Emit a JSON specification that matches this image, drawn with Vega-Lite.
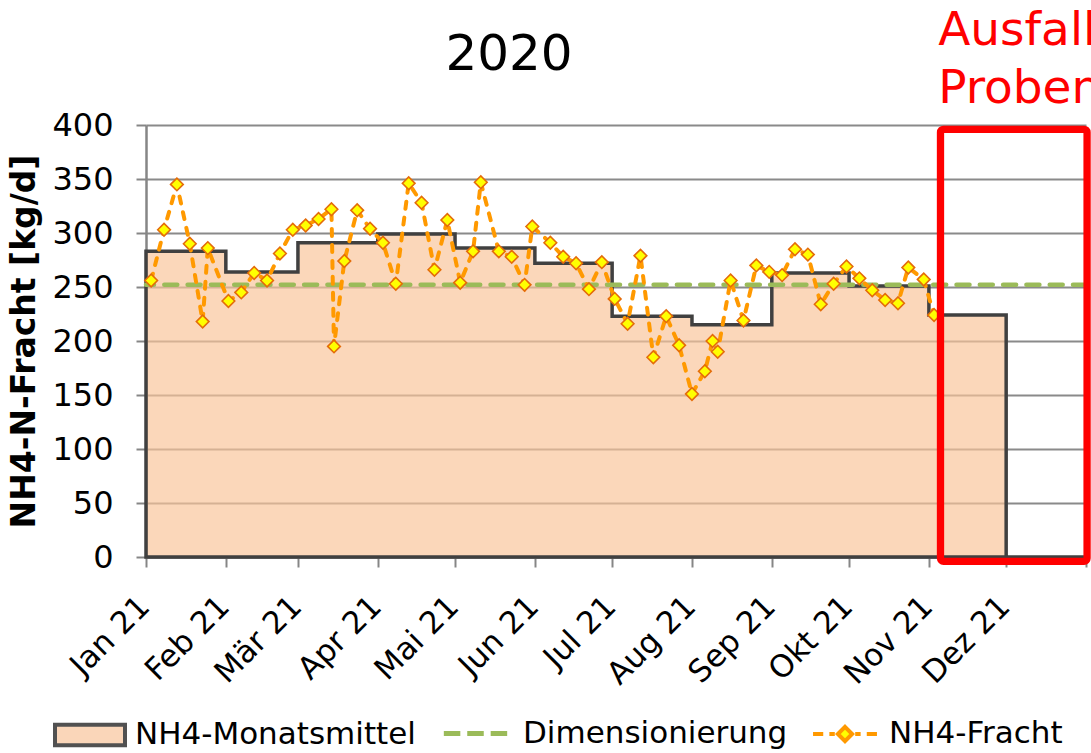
{
  "$schema": "https://vega.github.io/schema/vega-lite/v6.json",
  "width": 940,
  "height": 432,
  "autosize": {"type": "none"},
  "padding": {"left": 146, "top": 125, "right": 5, "bottom": 196},
  "background": "white",
  "title": {"text": "2020", "font": "DejaVu Sans", "fontSize": 50, "fontWeight": "normal", "color": "black", "anchor": "middle", "frame": "group", "dx": -107, "offset": -113, "baseline": "alphabetic"},
  "datasets": {
    "monthly": [
      {"datum": "2021-01-01", "wert": 283},
      {"datum": "2021-02-01", "wert": 264},
      {"datum": "2021-03-01", "wert": 291},
      {"datum": "2021-04-01", "wert": 299},
      {"datum": "2021-05-01", "wert": 286},
      {"datum": "2021-06-01", "wert": 272},
      {"datum": "2021-07-01", "wert": 223},
      {"datum": "2021-08-01", "wert": 215},
      {"datum": "2021-09-01", "wert": 263},
      {"datum": "2021-10-01", "wert": 251},
      {"datum": "2021-11-01", "wert": 224},
      {"datum": "2021-12-01", "wert": 0},
      {"datum": "2022-01-01", "wert": 0}
    ],
    "fracht": [
      {"datum": "2021-01-03", "wert": 256},
      {"datum": "2021-01-08", "wert": 303},
      {"datum": "2021-01-13", "wert": 345},
      {"datum": "2021-01-18", "wert": 290},
      {"datum": "2021-01-23", "wert": 218},
      {"datum": "2021-01-25", "wert": 286},
      {"datum": "2021-02-02", "wert": 237},
      {"datum": "2021-02-07", "wert": 245},
      {"datum": "2021-02-12", "wert": 263},
      {"datum": "2021-02-17", "wert": 256},
      {"datum": "2021-02-22", "wert": 281},
      {"datum": "2021-02-27", "wert": 303},
      {"datum": "2021-03-04", "wert": 307},
      {"datum": "2021-03-09", "wert": 313},
      {"datum": "2021-03-14", "wert": 322},
      {"datum": "2021-03-15", "wert": 195},
      {"datum": "2021-03-19", "wert": 274},
      {"datum": "2021-03-24", "wert": 321},
      {"datum": "2021-03-29", "wert": 304},
      {"datum": "2021-04-03", "wert": 291},
      {"datum": "2021-04-08", "wert": 253},
      {"datum": "2021-04-13", "wert": 346},
      {"datum": "2021-04-18", "wert": 328},
      {"datum": "2021-04-23", "wert": 266},
      {"datum": "2021-04-28", "wert": 312},
      {"datum": "2021-05-03", "wert": 254},
      {"datum": "2021-05-08", "wert": 283},
      {"datum": "2021-05-11", "wert": 347},
      {"datum": "2021-05-18", "wert": 283},
      {"datum": "2021-05-23", "wert": 278},
      {"datum": "2021-05-28", "wert": 252},
      {"datum": "2021-05-31", "wert": 306},
      {"datum": "2021-06-07", "wert": 291},
      {"datum": "2021-06-12", "wert": 278},
      {"datum": "2021-06-17", "wert": 272},
      {"datum": "2021-06-22", "wert": 248},
      {"datum": "2021-06-27", "wert": 273},
      {"datum": "2021-07-02", "wert": 239},
      {"datum": "2021-07-07", "wert": 216},
      {"datum": "2021-07-12", "wert": 279},
      {"datum": "2021-07-17", "wert": 185},
      {"datum": "2021-07-22", "wert": 223},
      {"datum": "2021-07-27", "wert": 196},
      {"datum": "2021-08-01", "wert": 151},
      {"datum": "2021-08-06", "wert": 172},
      {"datum": "2021-08-09", "wert": 200},
      {"datum": "2021-08-11", "wert": 190},
      {"datum": "2021-08-16", "wert": 256},
      {"datum": "2021-08-21", "wert": 219},
      {"datum": "2021-08-26", "wert": 270},
      {"datum": "2021-08-31", "wert": 264},
      {"datum": "2021-09-05", "wert": 261},
      {"datum": "2021-09-10", "wert": 285},
      {"datum": "2021-09-15", "wert": 280},
      {"datum": "2021-09-20", "wert": 234},
      {"datum": "2021-09-25", "wert": 253},
      {"datum": "2021-09-30", "wert": 269},
      {"datum": "2021-10-05", "wert": 258},
      {"datum": "2021-10-10", "wert": 247},
      {"datum": "2021-10-15", "wert": 238},
      {"datum": "2021-10-20", "wert": 235},
      {"datum": "2021-10-24", "wert": 268},
      {"datum": "2021-10-30", "wert": 257},
      {"datum": "2021-11-03", "wert": 224}
    ],
    "one": [{"id": 1}]
  },
  "layer": [
    {
      "data": {"name": "monthly"},
      "mark": {"type": "area", "interpolate": "step-after", "fillOpacity": 0.68, "stroke": "#404040", "strokeWidth": 3.5, "strokeJoin": "miter"},
      "encoding": {
        "x": {
          "field": "datum",
          "type": "temporal",
          "scale": {"type": "utc", "domain": [{"year": 2021, "month": 1, "date": 1, "utc": true}, {"year": 2022, "month": 1, "date": 1, "utc": true}]},
          "axis": {
            "title": null,
            "grid": false,
            "values": [
              {"year": 2021, "month": 1, "date": 1, "utc": true},
              {"year": 2021, "month": 2, "date": 1, "utc": true},
              {"year": 2021, "month": 3, "date": 1, "utc": true},
              {"year": 2021, "month": 4, "date": 1, "utc": true},
              {"year": 2021, "month": 5, "date": 1, "utc": true},
              {"year": 2021, "month": 6, "date": 1, "utc": true},
              {"year": 2021, "month": 7, "date": 1, "utc": true},
              {"year": 2021, "month": 8, "date": 1, "utc": true},
              {"year": 2021, "month": 9, "date": 1, "utc": true},
              {"year": 2021, "month": 10, "date": 1, "utc": true},
              {"year": 2021, "month": 11, "date": 1, "utc": true},
              {"year": 2021, "month": 12, "date": 1, "utc": true},
              {"year": 2022, "month": 1, "date": 1, "utc": true}
            ],
            "labelExpr": "utcyear(datum.value) == 2022 ? '' : ['Jan','Feb','Mär','Apr','Mai','Jun','Jul','Aug','Sep','Okt','Nov','Dez'][utcmonth(datum.value)] + ' 21'",
            "labelAngle": -45,
            "labelAlign": "right",
            "labelBaseline": "top",
            "labelPadding": 24,
            "labelOffset": -12,
            "labelFont": "DejaVu Sans",
            "labelFontSize": 31,
            "labelColor": "black",
            "labelOverlap": false,
            "labelBound": false,
            "labelFlush": false,
            "tickSize": 10,
            "tickColor": "#868686",
            "tickWidth": 2,
            "domainColor": "#868686",
            "domainWidth": 2.5
          }
        },
        "y": {
          "field": "wert",
          "type": "quantitative",
          "scale": {"domain": [0, 400], "nice": false, "zero": true},
          "axis": {
            "title": "NH4-N-Fracht [kg/d]",
            "titleFont": "DejaVu Sans",
            "titleFontSize": 33,
            "titleFontWeight": "bold",
            "titleColor": "black",
            "titlePadding": 10,
            "values": [0, 50, 100, 150, 200, 250, 300, 350, 400],
            "labelFont": "DejaVu Sans",
            "labelFontSize": 32,
            "labelColor": "black",
            "labelPadding": 23,
            "tickSize": 10,
            "tickColor": "#868686",
            "tickWidth": 2,
            "domainColor": "#868686",
            "domainWidth": 2.5,
            "grid": true,
            "gridColor": "#8a8a8a",
            "gridWidth": 1.8
          }
        },
        "fill": {
          "datum": "NH4-Monatsmittel",
          "scale": {"domain": ["NH4-Monatsmittel"], "range": ["#F9C499"]},
          "legend": {
            "title": null,
            "orient": "none",
            "legendX": -93,
            "legendY": 573,
            "padding": 0,
            "symbolType": "M-1,-0.29H1V0.29H-1Z",
            "symbolSize": 4900,
            "symbolOpacity": 0.68,
            "symbolStrokeColor": "#000000",
            "symbolStrokeWidth": 4,
            "labelFont": "DejaVu Sans",
            "labelFontSize": 31,
            "labelColor": "black",
            "labelOffset": 8,
            "labelLimit": 500
          }
        }
      }
    },
    {
      "data": {"name": "one"},
      "mark": {"type": "rule", "strokeWidth": 4.5, "strokeDash": [13, 10.3], "strokeCap": "round"},
      "encoding": {
        "y": {"datum": 252, "type": "quantitative", "scale": {"domain": [0, 400], "nice": false}},
        "color": {
          "datum": "Dimensionierung",
          "scale": {"domain": ["Dimensionierung"], "range": ["#9BBB59"]},
          "legend": {
            "title": null,
            "orient": "none",
            "legendX": 294,
            "legendY": 573,
            "padding": 0,
            "symbolType": "M-0.96,0H-0.46M-0.25,0H0.25M0.46,0H0.96",
            "symbolSize": 4356,
            "symbolStrokeWidth": 5,
            "labelFont": "DejaVu Sans",
            "labelFontSize": 31,
            "labelColor": "black",
            "labelOffset": 12,
            "labelLimit": 500
          }
        }
      }
    },
    {
      "data": {"name": "fracht"},
      "mark": {"type": "line", "strokeWidth": 4, "strokeCap": "round"},
      "encoding": {
        "x": {"field": "datum", "type": "temporal"},
        "y": {"field": "wert", "type": "quantitative"},
        "strokeDash": {"value": [7, 9]},
        "stroke": {
          "datum": "NH4-Fracht",
          "scale": {"domain": ["NH4-Fracht"], "range": ["#FF9900"]},
          "legend": {
            "title": null,
            "orient": "none",
            "legendX": 663,
            "legendY": 573,
            "padding": 0,
            "symbolType": "M-0.94,0H-0.64M-0.46,0H-0.3M0,-0.21L0.21,0L0,0.21L-0.21,0ZM0.3,0H0.46M0.64,0H0.94",
            "symbolSize": 4624,
            "symbolFillColor": "#FFFF00",
            "symbolStrokeWidth": 4,
            "labelFont": "DejaVu Sans",
            "labelFontSize": 31,
            "labelColor": "black",
            "labelOffset": 8,
            "labelLimit": 500
          }
        }
      }
    },
    {
      "data": {"name": "fracht"},
      "mark": {"type": "point", "shape": "diamond", "filled": true, "fill": "#FFFF00", "stroke": "#E46C0A", "strokeWidth": 1.6, "size": 160, "opacity": 1},
      "encoding": {
        "x": {"field": "datum", "type": "temporal"},
        "y": {"field": "wert", "type": "quantitative"}
      }
    },
    {
      "data": {"name": "one"},
      "mark": {"type": "rect", "filled": false, "stroke": "#FF0000", "strokeWidth": 7.3, "cornerRadius": 3},
      "encoding": {
        "x": {"datum": {"year": 2021, "month": 11, "date": 5, "hours": 12, "utc": true}, "type": "temporal"},
        "x2": {"datum": {"year": 2022, "month": 1, "date": 1, "hours": 10, "utc": true}},
        "y": {"datum": 396, "type": "quantitative", "scale": {"domain": [0, 400], "nice": false}},
        "y2": {"datum": -4}
      }
    },
    {
      "data": {"name": "one"},
      "mark": {"type": "text", "text": "Ausfall\nProben", "lineBreak": "\n", "align": "left", "baseline": "alphabetic", "font": "DejaVu Sans", "fontSize": 47, "lineHeight": 58, "color": "#FF0000"},
      "encoding": {
        "x": {"datum": {"year": 2021, "month": 11, "date": 4, "hours": 14, "utc": true}, "type": "temporal"},
        "y": {"datum": 474, "type": "quantitative", "scale": {"domain": [0, 400], "nice": false}}
      }
    }
  ],
  "config": {
    "view": {"stroke": null},
    "font": "DejaVu Sans"
  }
}
